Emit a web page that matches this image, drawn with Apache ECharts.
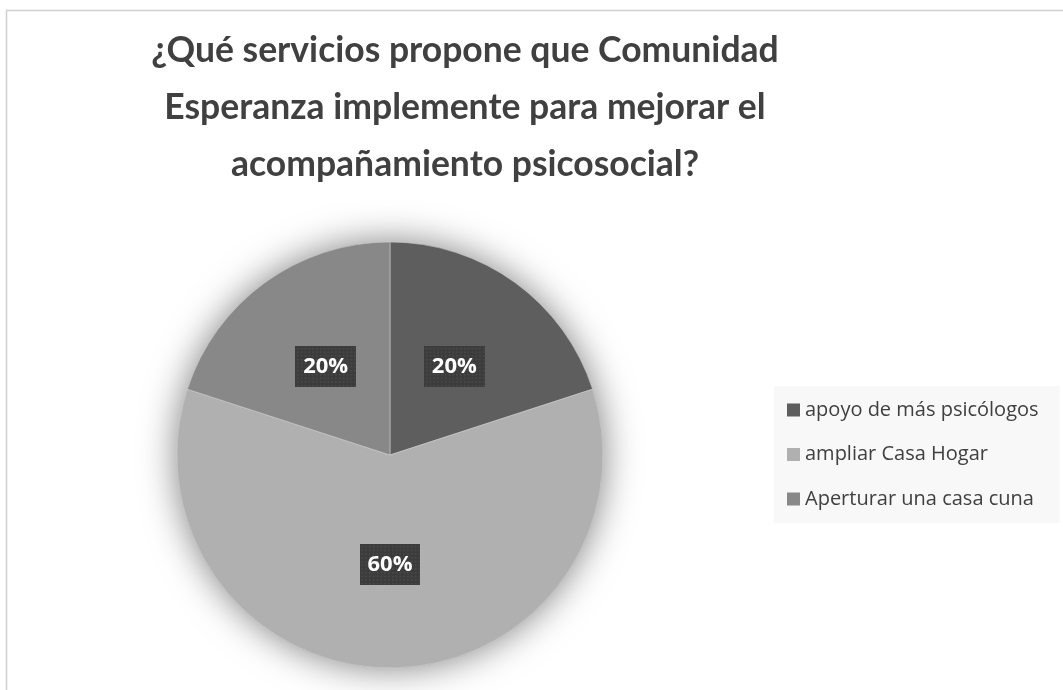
<!DOCTYPE html>
<html>
<head>
<meta charset="utf-8">
<script src="https://cdn.jsdelivr.net/npm/echarts@6/dist/echarts.min.js"></script>
<style>
html,body{margin:0;padding:0;background:#fff;}
#chart{width:1063px;height:690px;}
</style>
</head>
<body>
<div id="chart"></div>
<script>
const titleText = '¿Qué servicios propone que Comunidad\nEsperanza implemente para mejorar el\nacompañamiento psicosocial?';
const categories = ['apoyo de más psicólogos', 'ampliar Casa Hogar', 'Aperturar una casa cuna'];
const values = [20, 60, 20];
const colors = ['#5e5e5e', '#b0b0b0', '#888888'];

function makePattern(w, h) {
  const c = document.createElement('canvas');
  c.width = w; c.height = h;
  const ctx = c.getContext('2d');
  ctx.fillStyle = '#3c3c3c';
  ctx.fillRect(0, 0, w, h);
  ctx.fillStyle = '#4f4f4f';
  for (let y = 2; y < h; y += 4) {
    for (let x = 2; x < w; x += 4) {
      ctx.fillRect(x, y, 1.5, 1.5);
    }
  }
  return c;
}
const pattern = makePattern(64, 44);

const chart = echarts.init(document.getElementById('chart'), null, {renderer: 'canvas'});
const option = {
  backgroundColor: '#ffffff',
  animation: false,
  graphic: [
    {
      type: 'rect', silent: true, z: 0,
      shape: {x: 6.5, y: 10.5, width: 1100, height: 720},
      style: {fill: 'none', stroke: '#d0d0d0', lineWidth: 1.5}
    },
    {
      type: 'text', silent: true, z: 10,
      x: 465, y: 22,
      style: {
        text: titleText,
        textAlign: 'center',
        textVerticalAlign: 'top',
        font: 'bold 35.5px Lato',
        fill: '#404040',
        lineHeight: 57
      }
    }
  ],
  legend: {
    orient: 'vertical',
    left: 774,
    top: 386,
    data: categories,
    icon: 'rect',
    itemWidth: 13,
    itemHeight: 13,
    itemGap: 24.5,
    padding: [14, 21, 14, 13],
    backgroundColor: '#f8f8f8',
    itemStyle: {borderWidth: 0},
    textStyle: {fontFamily: 'Open Sans', fontSize: 20, color: '#404040', lineHeight: 20}
  },
  series: [
    {
      type: 'pie',
      silent: true,
      center: [390, 455],
      radius: 213,
      z: 1,
      label: {show: false},
      labelLine: {show: false},
      itemStyle: {color: '#999', shadowBlur: 36, shadowColor: 'rgba(0,0,0,0.5)'},
      data: [{value: 1, name: '__shadow'}]
    },
    {
      type: 'pie',
      center: [390, 455],
      radius: 213,
      startAngle: 90,
      clockwise: true,
      z: 2,
      itemStyle: {borderColor: '#d8d8d8', borderWidth: 0.5},
      label: {
        show: true,
        position: 'inside',
        formatter: p => Math.round(p.percent) + '%',
        fontFamily: 'Open Sans',
        fontWeight: 'bold',
        fontSize: 22,
        color: '#ffffff',
        lineHeight: 25,
        padding: [8, 8, 8, 8],
        backgroundColor: {image: pattern},
        shadowColor: 'rgba(0,0,0,0.45)',
        shadowBlur: 8,
        shadowOffsetX: 3,
        shadowOffsetY: 3
      },
      labelLine: {show: false},
      data: categories.map((c, i) => ({name: c, value: values[i], itemStyle: {color: colors[i]}}))
    }
  ]
};
chart.setOption(option);
</script>
</body>
</html>
